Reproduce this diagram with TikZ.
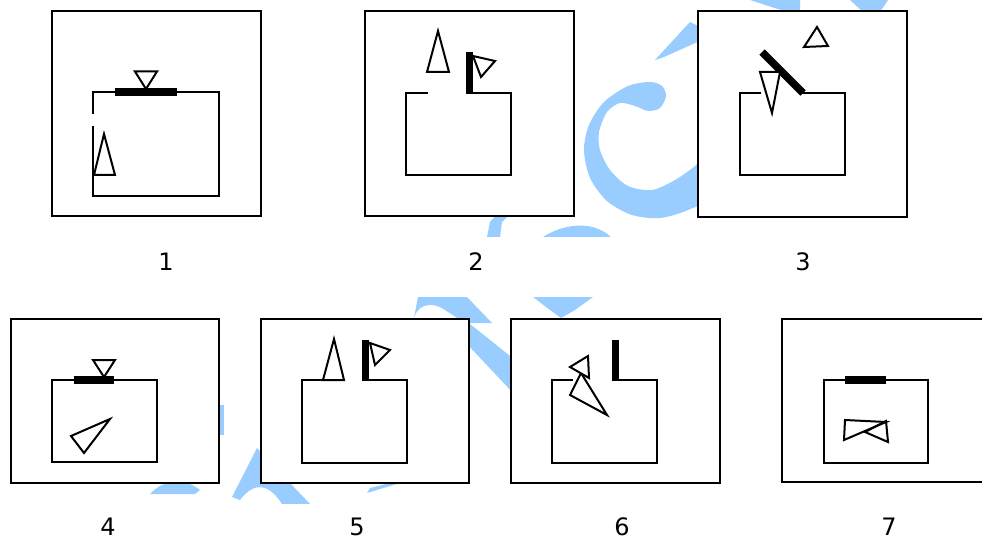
\documentclass[tikz,border=0pt]{standalone}
\usepackage{fontspec}
\setmainfont{DejaVu Sans}
\definecolor{wmblue}{RGB}{153,204,255}
\begin{document}
\begin{tikzpicture}[x=1pt,y=-1pt,
  thin/.style={line width=2.2pt,draw=black},
  frame/.style={line width=2.2pt,draw=black,fill=white},
  bar/.style={line width=7.5pt,draw=black},
  vbar/.style={line width=7pt,draw=black},
  tri/.style={line width=2pt,draw=black,fill=white},
  wm/.style={fill=wmblue,draw=none},
  lbl/.style={font=\fontsize{24}{28}\selectfont,inner sep=0pt}]
\useasboundingbox (0,0) rectangle (982,540);
\clip (0,0) rectangle (982,540);
\fill[white] (0,0) rectangle (982,540);
% ---------------- watermark ----------------
\fill[wm] plot[smooth cycle] coordinates {(650,82) (628,86) (604,102) (589,125) (584,150) (590,178) (607,201) (632,215) (660,218) (688,210) (712,195)
 (712,150) (695,166) (675,180) (652,190) (628,186) (610,170) (600,150) (599,132) (607,112) (620,103) (635,106) (648,111) (660,108) (666,96) (662,86)};
\fill[wm] (655,60) -- (690,22) -- (702,28) -- (702,40) -- (664,57) -- cycle;
\fill[wm] (750,0) -- (800,0) -- (800,12) -- (787,12) -- cycle;
\fill[wm] (850,0) -- (888,0) -- (880,12) -- (863,12) -- cycle;
\fill[wm] (381,237) arc[start angle=180,end angle=0,x radius=13,y radius=9] -- cycle;
\fill[wm] (487,237) -- (490,222) -- (497,214) -- (510,214) -- (502,222) -- (500,237) -- cycle;
\fill[wm] (543,237) .. controls (560,226) and (590,218) .. (611,237) -- cycle;
\fill[wm] (413,323) .. controls (415,305) and (430,300) .. (445,310) -- (465,323) -- (492,323) -- (467,297) -- (418,297) -- cycle;
\fill[wm] (533,297) -- (593,297) -- (575,310) -- (561,318) -- (550,310) -- cycle;
\fill[wm] (465,320) -- (515,360) -- (515,395) -- (468,345) -- cycle;
\fill[wm] (232,497) -- (257,448) -- (268,460) -- (310,504) -- (282,504) .. controls (270,485) and (255,480) .. (240,500) -- cycle;
\fill[wm] (150,494) .. controls (165,478) and (185,478) .. (200,490) -- (195,494) -- cycle;
\fill[wm] (367,493) -- (400,483) -- (390,483) -- (370,488) -- cycle;
\fill[wm] (219,405) -- (224,405) -- (224,435) -- (219,435) -- cycle;
% label strips
\fill[white] (0,237) rectangle (982,297);
\fill[white] (0,504) rectangle (982,540);
% ---------------- panel 1 ----------------
\draw[frame] (52,11) rectangle (261,216);
\draw[thin] (93,114) -- (93,92) -- (219,92) -- (219,196) -- (93,196) -- (93,126);
\draw[bar] (115,92) -- (177,92);
\draw[tri] (135,71.5) -- (157,71.5) -- (146,89) -- cycle;
\draw[tri] (104,134) -- (115,175) -- (94,175) -- cycle;
\node[lbl] (l1) at (166,262) {1};
% ---------------- panel 2 ----------------
\draw[frame] (365,11) rectangle (574,216);
\draw[thin] (428,93) -- (406,93) -- (406,175) -- (511,175) -- (511,93) -- (470,93);
\draw[vbar] (469.5,52) -- (469.5,94.1);
\draw[tri] (438,31) -- (449,72) -- (427,72) -- cycle;
\draw[tri] (473,56) -- (495,61) -- (481,77) -- cycle;
\node[lbl] (l2) at (476,262) {2};
% ---------------- panel 3 ----------------
\draw[frame] (698,11) rectangle (907,217);
\draw[thin] (761,93) -- (740,93) -- (740,175) -- (845,175) -- (845,93) -- (801,93);
\draw[bar] (762,52) -- (803,93);
\draw[tri] (760,72) -- (780,72) -- (772,113) -- cycle;
\draw[tri] (817,27) -- (828,46) -- (804,47) -- cycle;
\node[lbl] (l3) at (803,262) {3};
% ---------------- panel 4 ----------------
\draw[frame] (11,319) rectangle (219,483);
\draw[thin] (52,380) rectangle (157,462);
\draw[bar] (74,380) -- (114,380);
\draw[tri] (93,360) -- (115,360) -- (104,377) -- cycle;
\draw[tri] (71,436) -- (110,419) -- (84,453) -- cycle;
\node[lbl] (l4) at (108,527) {4};
% ---------------- panel 5 ----------------
\draw[frame] (261,319) rectangle (469,483);
\draw[thin] (344,380) -- (302,380) -- (302,463) -- (407,463) -- (407,380) -- (368,380);
\draw[vbar] (365.3,340) -- (365.3,381.1);
\draw[tri] (334,339) -- (344,380) -- (323,380) -- cycle;
\draw[tri] (370,343) -- (390,350) -- (375,365) -- cycle;
\node[lbl] (l5) at (357,527) {5};
% ---------------- panel 6 ----------------
\draw[frame] (511,319) rectangle (720,483);
\draw[thin] (573,380) -- (552,380) -- (552,463) -- (657,463) -- (657,380) -- (615,380);
\draw[vbar] (615.3,340) -- (615.3,381.1);
\draw[tri] (581,373) -- (570,395) -- (607,415) -- cycle;
\draw[tri] (570,367) -- (588,356) -- (589,378) -- cycle;
\node[lbl] (l6) at (622,527) {6};
% ---------------- panel 7 ----------------
\draw[frame] (782,319) rectangle (995,482);
\draw[thin] (824,380) rectangle (928,463);
\draw[bar] (845,380) -- (886,380);
\draw[line width=2pt] (845,420) -- (886,422) -- (844,440) -- cycle;
\draw[line width=2pt] (886,421) -- (888,442) -- (865,432) -- cycle;
\node[lbl] (l7) at (889,527) {7};
\end{tikzpicture}
\end{document}
